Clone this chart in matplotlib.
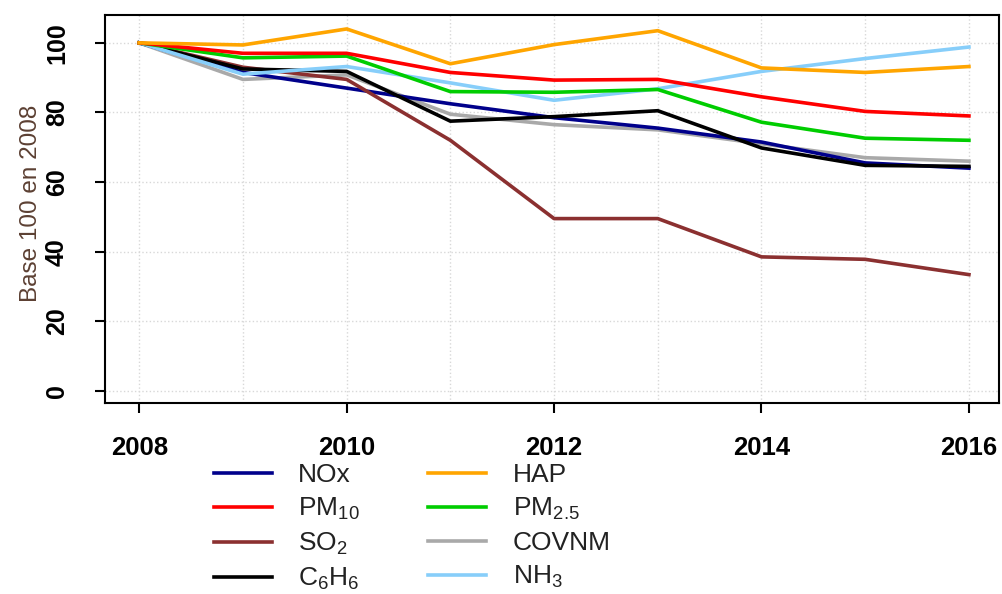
import matplotlib
matplotlib.use("Agg")
import matplotlib.pyplot as plt
from matplotlib.ticker import MultipleLocator

plt.rcParams['font.family'] = ['Liberation Sans', 'DejaVu Sans']
plt.rcParams['mathtext.default'] = 'regular'

years = [2008, 2009, 2010, 2011, 2012, 2013, 2014, 2015, 2016]

nox   = [100, 91.5, 87, 82.5, 78.5, 75.5, 71.5, 65.5, 64]
pm10  = [100, 97, 97, 91.5, 89.3, 89.5, 84.5, 80.3, 79]
so2   = [100, 93, 89.5, 72, 49.5, 49.5, 38.5, 37.8, 33.4]
c6h6  = [100, 92.5, 91.8, 77.5, 78.8, 80.5, 69.8, 64.8, 64.5]
hap   = [100, 99.4, 104, 94, 99.5, 103.5, 92.8, 91.5, 93.2]
pm25  = [100, 95.7, 96.2, 86, 85.8, 86.6, 77.2, 72.6, 72]
covnm = [100, 89.5, 90.8, 79.5, 76.5, 75, 71, 67, 66]
nh3   = [100, 91, 93.2, 88.5, 83.5, 86.8, 91.8, 95.5, 98.8]

series = [
    ('NOx', nox, '#00008B'),
    ('PM$_{10}$', pm10, '#FF0000'),
    ('SO$_2$', so2, '#8B3030'),
    ('C$_6$H$_6$', c6h6, '#000000'),
    ('HAP', hap, '#FFA500'),
    ('PM$_{2.5}$', pm25, '#00CD00'),
    ('COVNM', covnm, '#A9A9A9'),
    ('NH$_3$', nh3, '#87CEFA'),
]
draw_order = ['COVNM', 'NOx', 'SO$_2$', 'C$_6$H$_6$', 'NH$_3$', 'PM$_{2.5}$', 'PM$_{10}$', 'HAP']

fig = plt.figure(figsize=(10.02, 5.94), dpi=100)
ax = fig.add_axes([0.1048, 0.3215, 0.8922, 0.6532])

handles = {}
for name, vals, col in series:
    ln, = ax.plot(years, vals, color=col, lw=2.6, label=name,
                  zorder=3 + draw_order.index(name))
    handles[name] = ln

ax.set_xlim(2007.67, 2016.29)
ax.set_ylim(-3.5, 108)
ax.xaxis.set_major_locator(MultipleLocator(2))
ax.xaxis.set_minor_locator(MultipleLocator(1))
ax.yaxis.set_major_locator(MultipleLocator(20))

ax.grid(True, which='both', axis='x', color='#d8d8d8', linestyle=':', lw=1.0)
ax.grid(True, which='major', axis='y', color='#d8d8d8', linestyle=':', lw=1.0)
ax.tick_params(axis='x', which='minor', length=0)
ax.tick_params(axis='x', which='major', length=7, width=1.5, pad=17, labelsize=18.5)
ax.tick_params(axis='y', which='major', length=7, width=1.5, pad=19, labelsize=18)
for lab in ax.get_xticklabels():
    lab.set_fontweight('bold')
for lab in ax.get_yticklabels():
    lab.set_fontweight('bold')
    lab.set_rotation(90)
    lab.set_va('center')
for sp in ax.spines.values():
    sp.set_linewidth(1.5)

ax.set_ylabel('Base 100 en 2008', fontsize=17.5, color='#5c4033', va='center')
ax.yaxis.set_label_coords(-0.083, 0.515)

leg = ax.legend([handles[n] for n, _, _ in series], [n for n, _, _ in series],
                ncol=2, loc='upper left', bbox_to_anchor=(0.2, 0.243),
                bbox_transform=fig.transFigure, frameon=False,
                fontsize=19, handlelength=2.2, handletextpad=1.0,
                columnspacing=2.6, labelspacing=0.34, borderpad=0)
for t in leg.get_texts():
    t.set_color('#222222')

fig.savefig('out.png', dpi=100)
